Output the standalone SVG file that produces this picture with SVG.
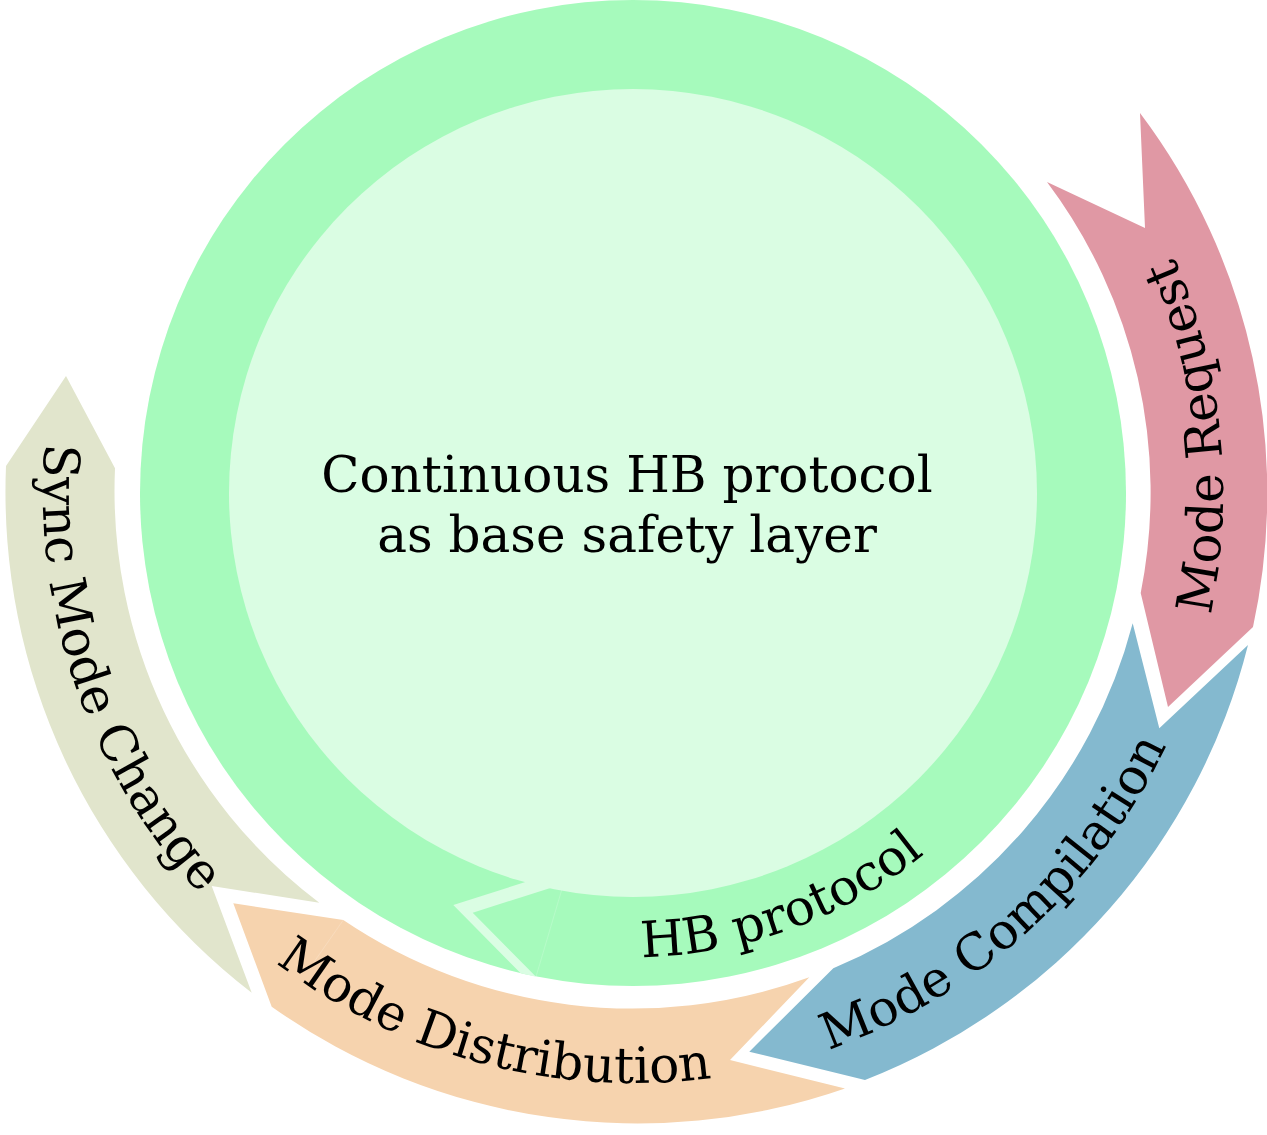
<svg xmlns="http://www.w3.org/2000/svg" width="1267" height="1135" viewBox="0 0 1267 1135">
  <style>
    .lbl { font-family: "DejaVu Serif", "Liberation Serif", serif; font-size: 50px; fill: #000000; }
    .seam { fill: none; stroke: #ffffff; stroke-opacity: 0.18; stroke-width: 1; }
  </style>
  <defs>
    <path id="tpPink" d="M 978.1,971.5 A 590 590 0 0 0 874.9,-45.2"/>
    <path id="tpBlue" d="M 450.7,1054.1 A 590 590 0 0 0 1210.1,370.3"/>
    <path id="tpOrange" d="M 63.6,647.7 A 590 590 0 0 0 1051.7,908.7"/>
    <path id="tpBeige" d="M 187.7,105.9 A 590 590 0 0 0 520.4,1072.2"/>
    <path id="tpHB" d="M 334.7,848.4 A 464 464 0 0 0 1089.9,573.6"/>
  </defs>
  <rect width="1267" height="1135" fill="#ffffff"/>

  <g id="hb-ring">
    <circle cx="633" cy="493" r="493" fill="#a6fabc"/>
    <polygon points="538,878 453.3,905 520.7,973.3 536,976.7 472.7,912.7 563,884" fill="#dafde3"/>
    <line x1="561.7" y1="890" x2="536" y2="976.7" class="seam"/>
    <text class="lbl"><textPath href="#tpHB" startOffset="50%" text-anchor="middle">HB protocol</textPath></text>
  </g>

  <g id="base-layer">
    <circle cx="633" cy="493" r="404" fill="#dafde3"/>
    <text class="lbl" text-anchor="middle"><tspan x="627" y="492">Continuous HB protocol</tspan><tspan x="627" y="552">as base safety layer</tspan></text>
  </g>

  <g id="mode-request">
    <path d="M 1140,113 A 632 632 0 0 1 1253,627 L 1168,707 L 1140.7,593 A 516.5 516.5 0 0 0 1047,182 L 1145,228 Z" fill="#e098a4"/>
    <text class="lbl"><textPath href="#tpPink" startOffset="50%" text-anchor="middle">Mode Request</textPath></text>
  </g>

  <g id="mode-compilation">
    <path d="M 1248,645 A 632 632 0 0 1 865,1080 L 749.3,1051.7 L 833.3,968.3 A 516.5 516.5 0 0 0 1132.7,623.3 L 1159.3,728.3 Z" fill="#84b9cf"/>
    <text class="lbl"><textPath href="#tpBlue" startOffset="50%" text-anchor="middle">Mode Compilation</textPath></text>
  </g>

  <g id="mode-distribution">
    <path d="M 845,1088.4 A 632 632 0 0 1 271.7,1006.7 L 233.3,903.3 L 343.3,920 A 516.5 516.5 0 0 0 809.3,977.3 L 730,1060 Z" fill="#f6d3ae"/>
    <line x1="343.3" y1="920" x2="314" y2="962" class="seam"/>
    <text class="lbl"><textPath href="#tpOrange" startOffset="50%" text-anchor="middle">Mode Distribution</textPath></text>
  </g>

  <g id="sync-mode-change">
    <path d="M 251.7,992.7 A 632 632 0 0 1 6,466 L 66,376 L 115,468.3 A 516.5 516.5 0 0 0 319.3,902.7 L 211.7,886 Z" fill="#e1e5cc"/>
    <text class="lbl"><textPath href="#tpBeige" startOffset="50%" text-anchor="middle">Sync Mode Change</textPath></text>
  </g>

  <g id="connectors"/>
</svg>
